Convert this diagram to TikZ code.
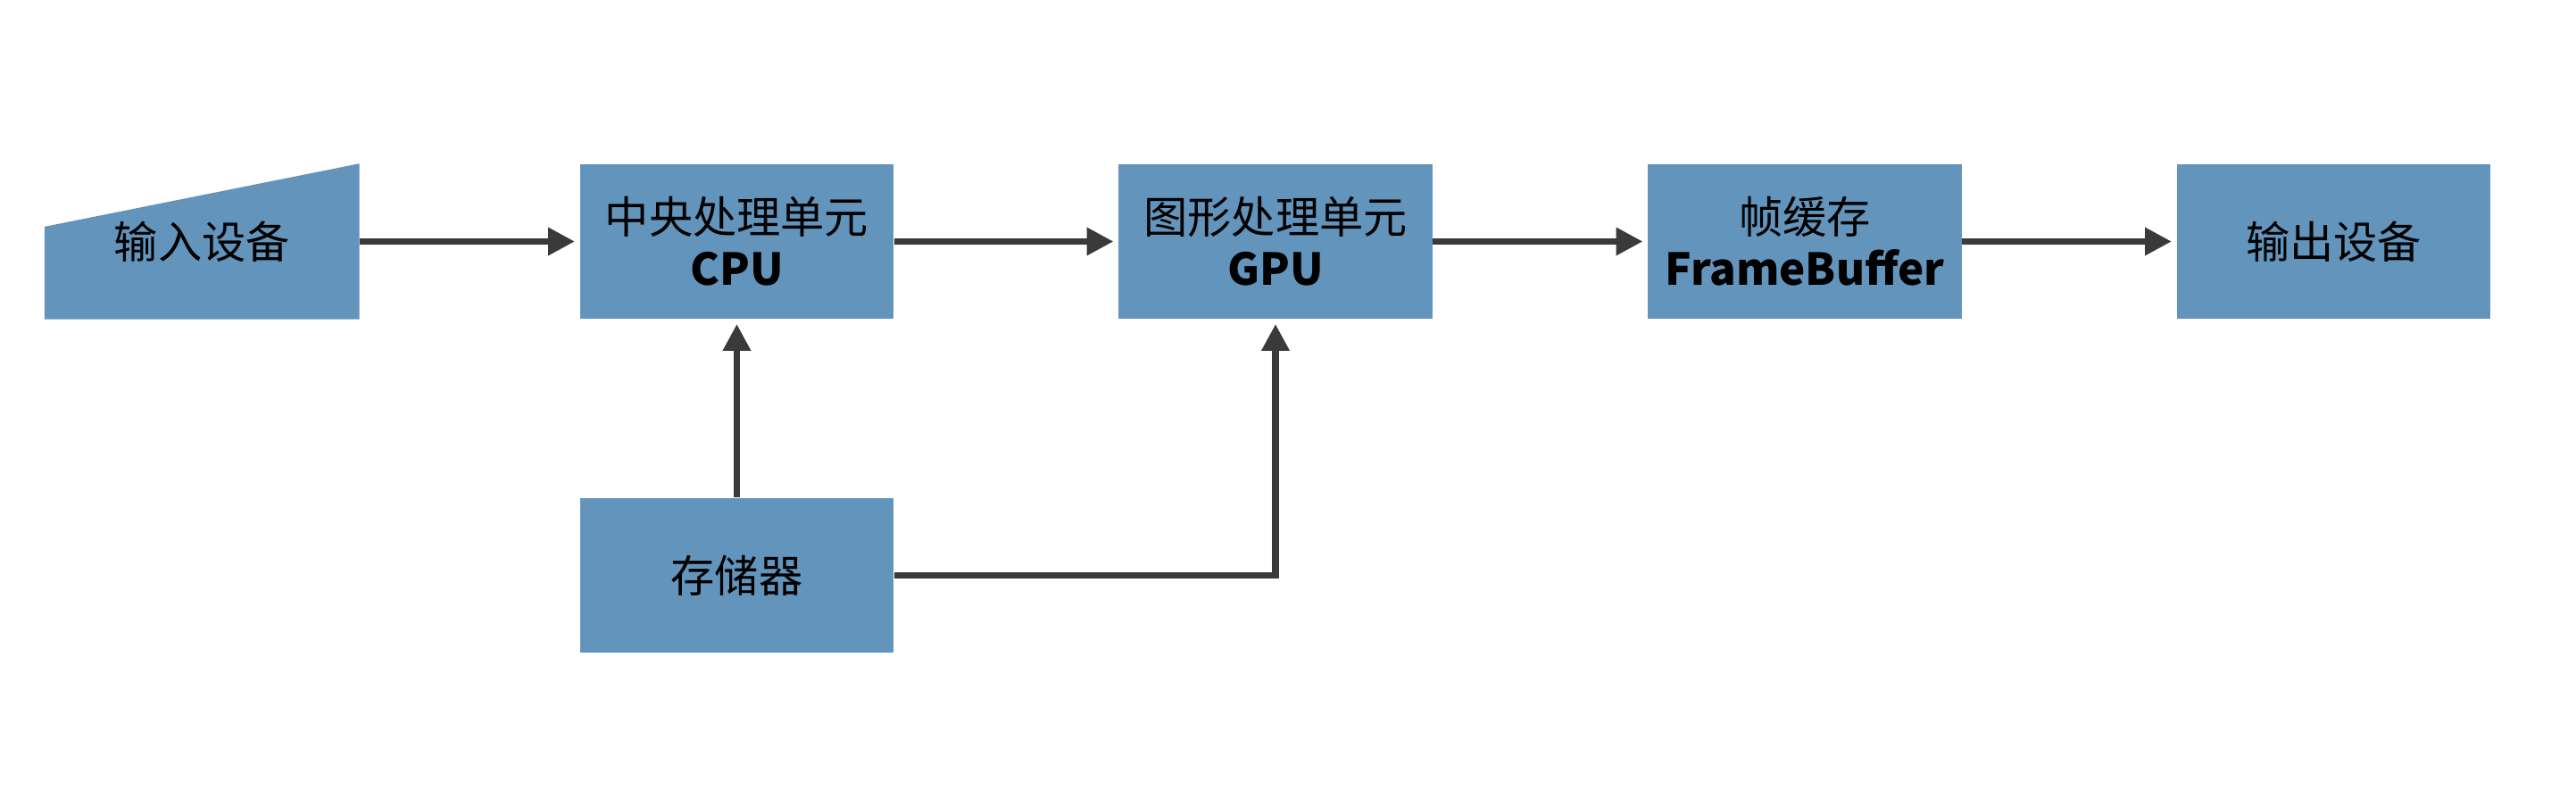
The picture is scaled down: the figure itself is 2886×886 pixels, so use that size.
\documentclass[tikz,border=0pt]{standalone}
\usepackage{fontspec}
\setmainfont{Noto Sans CJK SC}
\usetikzlibrary{arrows.meta,backgrounds,calc}
\definecolor{boxblue}{RGB}{99,148,188}
\definecolor{arrowgray}{RGB}{58,58,58}
\begin{document}
\begin{tikzpicture}[x=0.01cm,y=-0.01cm,
  blk/.style={fill=boxblue, draw=none, minimum width=3.51cm, minimum height=1.73cm,
    align=center, inner sep=0pt, font=\fontsize{14}{16.5}\selectfont},
  conn/.style={draw=arrowgray, line width=2pt, shorten >=1.5pt, -{Triangle[length=8.5pt,width=8.5pt]}}
]
\useasboundingbox (0,0) rectangle (2886,886);

\node[blk, fill=none] (in) at (226.25,270.5) {输入设备};
\begin{scope}[on background layer]
  \fill[white] (0,0) rectangle (2886,886);
  \fill[boxblue] (in.south west) -- (in.south east) -- (in.north east)
    -- ($(in.north west)!0.405!(in.south west)$) -- cycle;
\end{scope}

\node[blk] (cpu) at (825.5,270.5) {中央处理单元\\\textbf{CPU}};
\node[blk] (gpu) at (1429,270.5) {图形处理单元\\\textbf{GPU}};
\node[blk] (fb)  at (2022,270.5) {帧缓存\\\textbf{FrameBuffer}};
\node[blk] (out) at (2614.5,270.5) {输出设备};
\node[blk] (mem) at (825.5,644.5) {存储器};

\draw[conn] (in.east) -- (cpu.west);
\draw[conn] (cpu.east) -- (gpu.west);
\draw[conn] (gpu.east) -- (fb.west);
\draw[conn] (fb.east) -- (out.west);
\draw[conn] (mem.north) -- (cpu.south);
\draw[conn] (mem.east) -| (gpu.south);
\end{tikzpicture}
\end{document}
